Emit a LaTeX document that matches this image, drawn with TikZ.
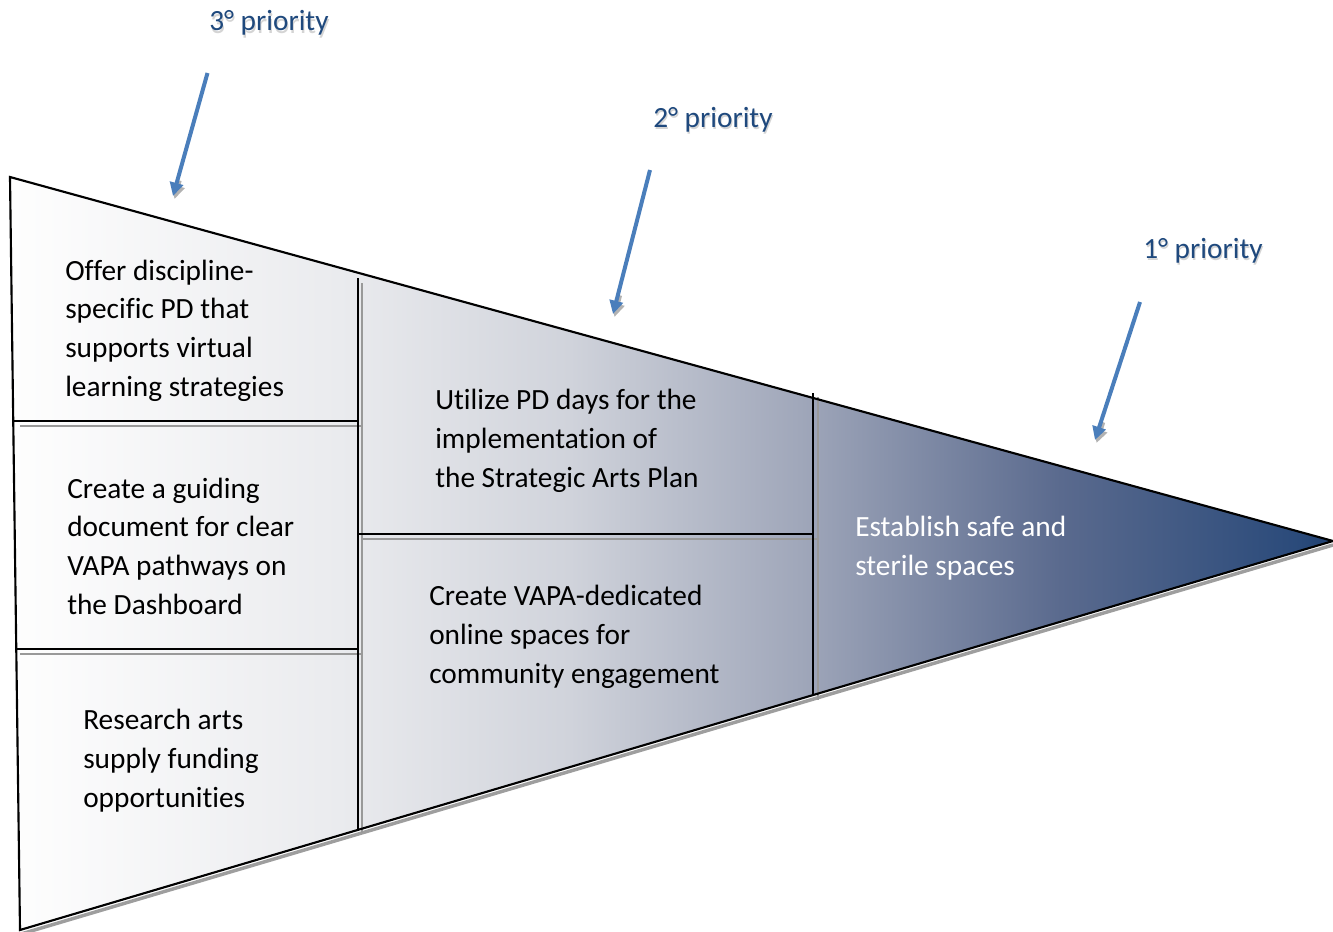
\documentclass[tikz,border=0pt]{standalone}
\usepackage{fontspec}
\setmainfont{Carlito}[Ligatures=NoCommon]
\usetikzlibrary{arrows.meta,calc}

% colours of the funnel shading, light at the wide end, navy at the point
\definecolor{fa}{HTML}{FEFEFE}
\definecolor{fb}{HTML}{EAEBEE}
\definecolor{fc}{HTML}{D0D3DB}
\definecolor{fd}{HTML}{A0A7BA}
\definecolor{fe}{HTML}{5A6A8E}
\definecolor{ff}{HTML}{2A4A7A}
\definecolor{fg}{HTML}{1F4070}
\definecolor{arrowblue}{HTML}{4A7EBB}
\definecolor{labelblue}{HTML}{1F497D}

\pgfdeclarehorizontalshading{funnel}{100bp}{%
  color(0bp)=(fa); color(25bp)=(fa); color(37.45bp)=(fb);
  color(46.15bp)=(fc); color(54.85bp)=(fd); color(64.7bp)=(fe);
  color(73.75bp)=(ff); color(75bp)=(fg); color(100bp)=(fg)}

\begin{document}
\begin{tikzpicture}[x=0.75pt,y=-0.75pt,
  outline/.style={draw=black, line width=1.6pt, line join=miter},
  divider/.style={draw=black, line width=1.2pt},
  dividershade/.style={draw=black!40, line width=1.2pt},
  edgeshade/.style={draw=black!38, line width=2.6pt},
  % multi-line texts are placed by the baseline of their last line
  body/.style={font=\fontsize{22}{29}\selectfont, align=left, anchor=base west, inner sep=0pt, text=black},
  light/.style={body, text=white},
  prio/.style={font=\fontsize{22}{29}\selectfont, anchor=base west, inner sep=0pt, text=labelblue},
  prioshade/.style={prio, text=black!17},
  pointer/.style={draw=arrowblue, line width=3pt, -{Triangle[length=10pt,width=10pt]}},
  pointershade/.style={draw=black!30, line width=3pt, -{Triangle[length=10pt,width=10pt]}},
]
\useasboundingbox (0,0) rectangle (1333,931);

% corners of the funnel
\coordinate (tl) at (10,177);
\coordinate (bl) at (20,930);
\coordinate (tip) at (1333,541);

% soft shadow under the lower edge
\draw[edgeshade] (21,934) -- (1333,545);

% shaded funnel body
\fill[shading=funnel] (tl) -- (tip) -- (bl) -- cycle;

% grey companions of the dividing lines
\draw[dividershade] (362,283) -- (362,833);
\draw[dividershade] (20,426) -- (362,426);
\draw[dividershade] (20,654) -- (362,654);
\draw[dividershade] (362,539) -- (818,539);
\draw[dividershade] (818,397) -- (818,700);

% dividing lines
\draw[divider] (358,278) -- (358,829);
\draw[divider] (14,421) -- (358,421);
\draw[divider] (15,649) -- (358,649);
\draw[divider] (358,534) -- (813,534);
\draw[divider] (813,393) -- (813,694);

% outline
\draw[outline] (tl) -- (tip) -- (bl) -- cycle;

% cell texts
\node[body] (c1) at (65,396) {Offer discipline-\\specific PD that\\supports virtual\\learning strategies};
\node[body] (c2) at (67,614) {Create a guiding\\document for clear\\VAPA pathways on\\the Dashboard};
\node[body] (c3) at (83,807) {Research arts\\supply funding\\opportunities};
\node[body] (c4) at (435,487) {Utilize PD days for the\\implementation of\\the Strategic Arts Plan};
\node[body] (c5) at (429,683) {Create VAPA-dedicated\\online spaces for\\community engagement};
\node[light] (c6) at (855,575) {Establish safe and\\sterile spaces};

% priority labels with their soft shadow
\node[prioshade] (p3s) at (210,33.5) {3° priority};
\node[prio] (p3) at (209,31) {3° priority};
\node[prioshade] (p2s) at (654,129.5) {2° priority};
\node[prio] (p2) at (653,127) {2° priority};
\node[prioshade] (p1s) at (1144,260.5) {1° priority};
\node[prio] (p1) at (1143,258) {1° priority};

% pointer ends
\coordinate (a3s) at (207.5,73);
\coordinate (a3e) at (173,196);
\coordinate (a2s) at (650,170);
\coordinate (a2e) at (613,314);
\coordinate (a1s) at (1140,302);
\coordinate (a1e) at (1095,440);

% shadows of the pointer heads
\draw[pointershade] ([shift={(1.5,3)}]$(a3s)!0.85!(a3e)$) -- ([shift={(1.5,3)}]a3e);
\draw[pointershade] ([shift={(1.5,3)}]$(a2s)!0.85!(a2e)$) -- ([shift={(1.5,3)}]a2e);
\draw[pointershade] ([shift={(1.5,3)}]$(a1s)!0.85!(a1e)$) -- ([shift={(1.5,3)}]a1e);

% pointers
\draw[pointer] (a3s) -- (a3e);
\draw[pointer] (a2s) -- (a2e);
\draw[pointer] (a1s) -- (a1e);
\end{tikzpicture}
\end{document}
